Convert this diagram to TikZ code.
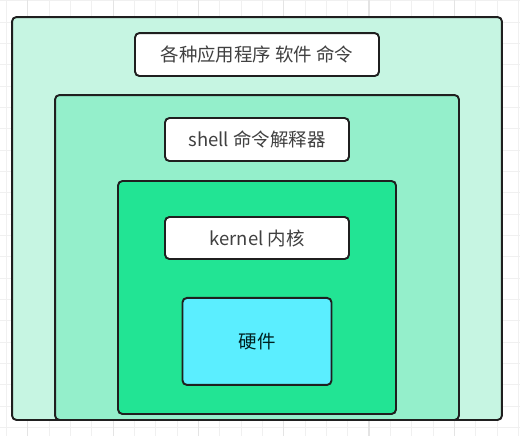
\documentclass[tikz,border=0pt]{standalone}
\usepackage{fontspec}
\setmainfont{Noto Sans CJK SC}
\usepackage{xcolor}
\usepackage{tikz}
\usetikzlibrary{positioning}

\definecolor{appmint}{HTML}{C6F5E2}
\definecolor{shellmint}{HTML}{94EFCB}
\definecolor{kernelgreen}{HTML}{22E494}
\definecolor{hwcyan}{HTML}{5BEEFF}
\definecolor{gridgray}{HTML}{F0F0F0}
\definecolor{gridmajor}{HTML}{E4E4E4}

\begin{document}
\begin{tikzpicture}[x=0.02cm, y=-0.02cm,
    layer/.style={draw=black!88, line width=1.1pt, rounded corners=2.5pt, inner sep=0pt},
    tagbox/.style={layer, fill=white, text=black!75, font=\fontsize{10.5}{12}\selectfont},
    gridline/.style={gridgray, line width=0.5pt}]
        \useasboundingbox[fill=white] (0,0) rectangle (520,436);
        % background grid
        \foreach \gx in {0,...,24}
            \draw[gridline] ({6.4+21.33*\gx},0) -- ++(0,436);
        \foreach \gy in {0,...,20}
            \draw[gridline] (0,{0.7+21.33*\gy}) -- ++(520,0);
        \foreach \gx in {0,...,5}
            \draw[gridmajor, line width=0.6pt] ({27.7+85.33*\gx},0) -- ++(0,436);

        % nested layers
        \node[layer, fill=appmint, minimum width=9.8cm, minimum height=8.06cm] (apps) at (257,218.5) {};
        \node[layer, fill=shellmint, minimum width=8.08cm, minimum height=6.5cm] (shell) at (257,257.5) {};
        \node[layer, fill=kernelgreen, minimum width=5.56cm, minimum height=4.66cm] (kernel) at (257,297.5) {};

        % captions
        \node[tagbox, minimum width=4.88cm, minimum height=0.86cm] (appstag) [below=0.32cm of apps.north] {各种应用程序 软件 命令};
        \node[tagbox, minimum width=3.68cm, minimum height=0.86cm] (shelltag) [below=0.46cm of shell.north] {shell 命令解释器};
        \node[tagbox, minimum width=3.68cm, minimum height=0.84cm] (kerneltag) [below=0.72cm of kernel.north] {kernel 内核};
        \node[tagbox, fill=hwcyan, text=black!75!teal, minimum width=2.98cm, minimum height=1.74cm] (hw) [below=0.74cm of kerneltag] {硬件};
    \end{tikzpicture}
\end{document}
